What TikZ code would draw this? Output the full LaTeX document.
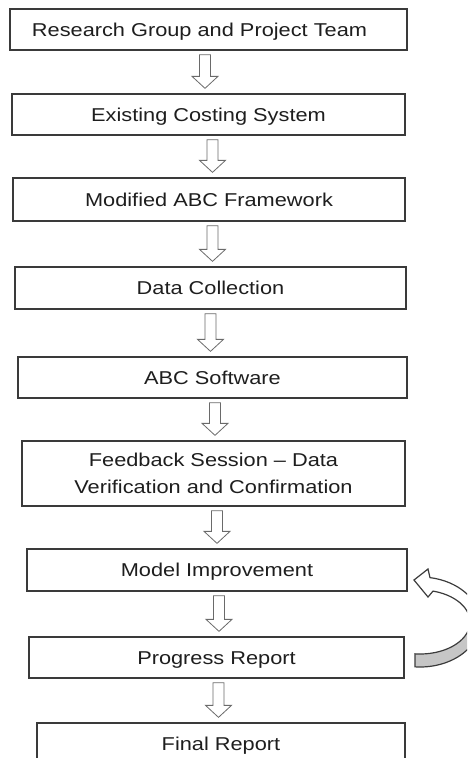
\documentclass[tikz,border=0pt]{standalone}
\usepackage{fontspec}
\setmainfont[FakeStretch=1.17]{Liberation Sans}
\usetikzlibrary{calc}
\definecolor{boxline}{HTML}{3A3A3A}
\definecolor{arrowline}{HTML}{6A6A6A}
\definecolor{txt}{HTML}{1E1E1E}
\definecolor{loopgray}{HTML}{C6C6C6}
\definecolor{loopline}{HTML}{3C3C3C}
% block arrow between two named nodes; #3 = x of the arrow axis
\newcommand\flowarrow[3]{%
  \draw[blockarrow] let \p1=(#1.south), \p2=(#2.north) in
    ({#3pt-5.5pt},{\y1-4pt}) -- ({#3pt+5.5pt},{\y1-4pt}) --
    ({#3pt+5.5pt},{\y2+17pt}) -- ({#3pt+13pt},{\y2+17pt}) --
    ({#3pt},{\y2+5pt}) -- ({#3pt-13pt},{\y2+17pt}) --
    ({#3pt-5.5pt},{\y2+17pt}) -- cycle;}
\begin{document}
\begin{tikzpicture}[x=1pt,y=-1pt,
  stepbox/.style={draw=boxline, line width=1.3pt, fill=white, rectangle,
    inner sep=0pt, text=txt, font=\fontsize{18.6pt}{27pt}\selectfont},
  onebox/.style={stepbox, text height=13.4pt, text depth=0pt},
  blockarrow/.style={draw=arrowline, line width=0.8pt, fill=white, line join=miter},
  loopstyle/.style={draw=loopline, line width=1.2pt, line join=miter}]
\useasboundingbox (0,0) rectangle (467,758);
\clip (0,0) rectangle (467,758);

\node[onebox, minimum width=397pt, minimum height=41pt] (b1) at (208.5,29.5) {Research Group and Project Team\hspace*{18pt}};
\node[onebox, minimum width=393pt, minimum height=41pt] (b2) at (208.5,114.5) {Existing Costing System};
\node[onebox, minimum width=392pt, minimum height=43pt] (b3) at (209,199.5) {Modified ABC Framework};
\node[onebox, minimum width=391pt, minimum height=42pt] (b4) at (210.5,288) {Data Collection};
\node[onebox, minimum width=389pt, minimum height=41pt] (b5) at (212.5,377.5) {ABC Software};
\node[stepbox, align=center, minimum width=383pt, minimum height=65pt] (b6) at (213.5,473.5) {Feedback Session – Data\\Verification and Confirmation};
\node[onebox, minimum width=380pt, minimum height=42pt] (b7) at (217,570) {Model Improvement};
\node[onebox, minimum width=375pt, minimum height=41pt] (b8) at (216.5,657.5) {Progress Report};
\node[onebox, minimum width=368pt, minimum height=42pt] (b9) at (221,744) {Final Report};

\flowarrow{b1}{b2}{205}
\flowarrow{b2}{b3}{212.5}
\flowarrow{b3}{b4}{212.5}
\flowarrow{b4}{b5}{210.5}
\flowarrow{b5}{b6}{215}
\flowarrow{b6}{b7}{217}
\flowarrow{b7}{b8}{219}
\flowarrow{b8}{b9}{218.5}

% curved feedback arrow from Progress Report back to Model Improvement
\fill[loopgray] plot[domain=5:94.8, samples=30] ({420+60*cos(\x)},{622+45*sin(\x)})
  -- plot[domain=-95.7:-5, samples=30] ({420+50*cos(-\x)},{622+32*sin(-\x)}) -- cycle;
\draw[loopstyle] (414,580) -- (428,569)
  -- plot[domain=-80.4:94.8, samples=60] ({420+60*cos(\x)},{622+45*sin(\x)})
  -- plot[domain=-95.7:74.9, samples=60] ({420+50*cos(-\x)},{622+32*sin(-\x)})
  -- (428,597) -- cycle;
\end{tikzpicture}
\end{document}
